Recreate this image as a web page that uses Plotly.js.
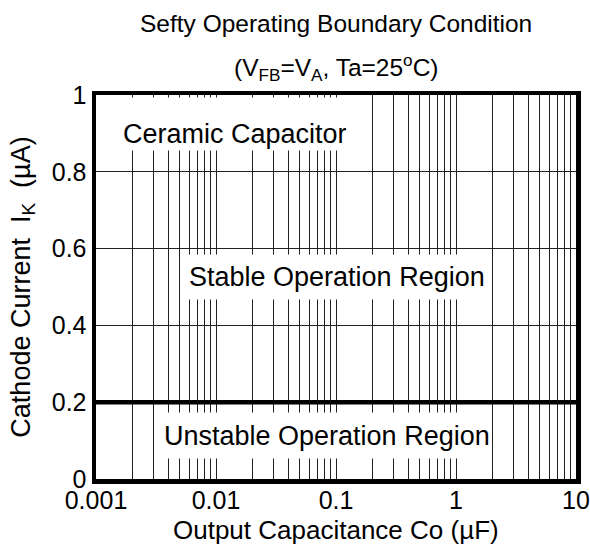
<!DOCTYPE html>
<html>
<head>
<meta charset="utf-8">
<script src="https://cdn.plot.ly/plotly-3.0.1.min.js"></script>
<style>html,body{margin:0;padding:0;background:#fff;}#chart{width:590px;height:547px;}</style>
</head>
<body>
<div id="chart"></div>
<script>
// Data
const boundaryX = [0.001, 10];
const boundaryY = [0.2, 0.2];
const xTickVals = [0.001, 0.01, 0.1, 1, 10];
const xTickText = ['0.001', '0.01', '0.1', '1', '10'];
const xMinorVals = [0.002,0.003,0.004,0.005,0.006,0.007,0.008,0.009,
                    0.02,0.03,0.04,0.05,0.06,0.07,0.08,0.09,
                    0.2,0.3,0.4,0.5,0.6,0.7,0.8,0.9,
                    2,3,4,5,6,7,8,9];
const yTickVals = [0, 0.2, 0.4, 0.6, 0.8, 1];
const yTickText = ['0', '0.2', '0.4', '0.6', '0.8', '1'];
const regionLabels = ['Ceramic Capacitor', 'Stable Operation Region', 'Unstable Operation Region'];
const titleLine1 = 'Sefty Operating Boundary Condition';
const titleLine2 = '(V<sub>FB</sub>=V<sub>A</sub>, Ta=25<sup>o</sup>C)';
const xTitle = 'Output Capacitance Co (µF)';
const yTitle = 'Cathode Current  I<sub>K</sub>  (µA)';

const font = 'Liberation Sans, Arial, sans-serif';

const trace = {
  x: boundaryX, y: boundaryY, type: 'scatter', mode: 'lines',
  line: {color: '#000', width: 4.5}, hoverinfo: 'skip', showlegend: false
};

const layout = {
  width: 590, height: 547,
  margin: {l: 96, r: 14, t: 95, b: 68},
  paper_bgcolor: '#fff', plot_bgcolor: '#fff',
  font: {family: font, size: 25, color: '#000'},
  showlegend: false,
  xaxis: {
    type: 'log', range: [-3, 1], tickmode: 'array', tickvals: xTickVals, ticktext: xTickText,
    showgrid: true, gridcolor: '#222', gridwidth: 1, zeroline: false,
    minor: {tickmode: 'array', tickvals: xMinorVals, showgrid: true, gridcolor: '#222', gridwidth: 1, ticks: ''},
    showline: true, linecolor: '#000', linewidth: 4.5, mirror: true,
    ticks: '', ticklabelstandoff: -5, tickfont: {family: font, size: 25, color: '#000'},
    automargin: false
  },
  yaxis: {
    range: [0, 1], tickmode: 'array', tickvals: yTickVals, ticktext: yTickText,
    showgrid: true, gridcolor: '#222', gridwidth: 1, zeroline: false,
    showline: true, linecolor: '#000', linewidth: 4.5, mirror: true,
    ticks: '', tickfont: {family: font, size: 25, color: '#000'},
    title: {text: yTitle, font: {family: font, size: 27, color: '#000'}, standoff: 15},
    automargin: false
  },
  annotations: [
    {text: titleLine1, xref: 'paper', yref: 'paper', x: 0.5, y: 1, yshift: 72, xanchor: 'center', yanchor: 'middle',
     showarrow: false, font: {family: font, size: 24.5, color: '#000'}},
    {text: titleLine2, xref: 'paper', yref: 'paper', x: 0.5, y: 1, yshift: 28, xanchor: 'center', yanchor: 'middle',
     showarrow: false, font: {family: font, size: 24.5, color: '#000'}},
    {text: xTitle, xref: 'paper', yref: 'paper', x: 0.5, y: 0, yshift: -51, xanchor: 'center', yanchor: 'middle',
     showarrow: false, font: {family: font, size: 26, color: '#000'}},
    {text: regionLabels[0], xref: 'x', yref: 'y', x: -1.842, y: 0.924, xanchor: 'center', yanchor: 'middle',
     showarrow: false, bgcolor: '#fff', height: 50, valign: 'bottom', borderpad: 1,
     font: {family: font, size: 27, color: '#000'}},
    {text: regionLabels[1], xref: 'x', yref: 'y', x: -0.992, y: 0.526, xanchor: 'center', yanchor: 'middle',
     showarrow: false, bgcolor: '#fff', height: 42, valign: 'middle', borderpad: 1,
     font: {family: font, size: 27, color: '#000'}},
    {text: regionLabels[2], xref: 'x', yref: 'y', x: -1.079, y: 0.113, xanchor: 'center', yanchor: 'middle',
     showarrow: false, bgcolor: '#fff', height: 43, valign: 'middle', borderpad: 1,
     font: {family: font, size: 27, color: '#000'}}
  ]
};

Plotly.newPlot('chart', [trace], layout, {staticPlot: true, displayModeBar: false});
</script>
</body>
</html>
